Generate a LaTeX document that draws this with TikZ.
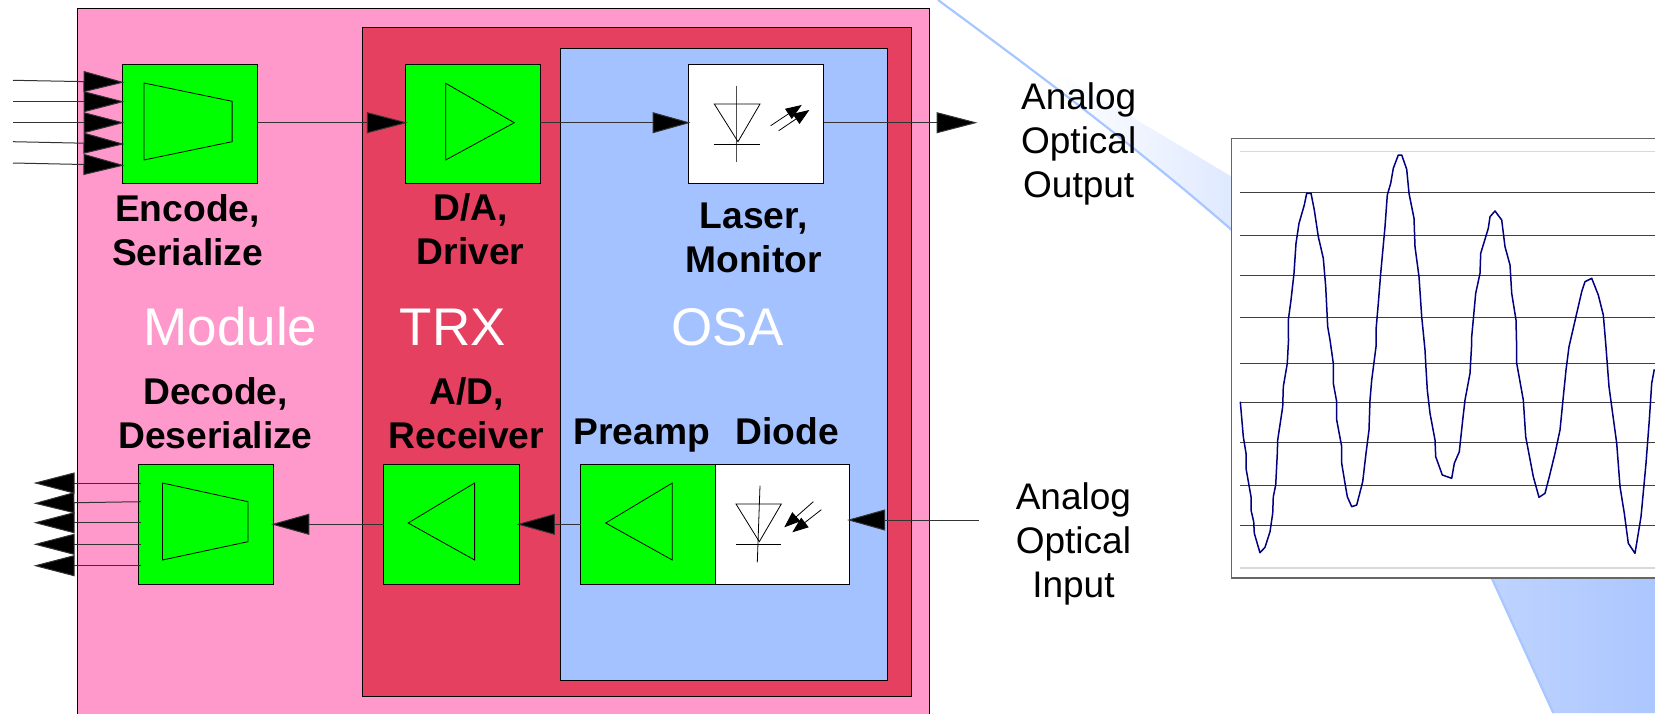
\documentclass[tikz,border=0pt]{standalone}
\usepackage{fontspec}
\setmainfont{Liberation Sans}
\usepackage{xcolor}
\definecolor{modPink}{HTML}{FF99CC}
\definecolor{trxRed}{HTML}{E64060}
\definecolor{osaBlue}{HTML}{A4C2FF}
\definecolor{swooshEdge}{HTML}{A8C6FF}
\definecolor{swooshA}{HTML}{DFE9FF}
\definecolor{swooshB}{HTML}{BDD2FF}
\definecolor{swooshC}{HTML}{ACC7FF}
\definecolor{traceBlue}{HTML}{000080}
\usetikzlibrary{arrows.meta}
\pgfdeclarehorizontalshading{swooshfill}{100bp}{color(0bp)=(white); color(33bp)=(white); color(45.3bp)=(swooshA); color(63.9bp)=(swooshB); color(74.6bp)=(swooshC); color(100bp)=(swooshC)}
\tikzset{
	region/.style={draw=black, line width=0.8pt},
	greenbox/.style={draw=black, line width=1pt, fill=green, inner sep=0pt, outer sep=0pt, minimum width=135.5pt, minimum height=119.4pt},
	whitebox/.style={greenbox, fill=white},
	caption/.style={align=center, font=\fontsize{37.2}{44}\selectfont\bfseries, inner sep=0pt},
	plainlabel/.style={align=center, font=\fontsize{37}{44}\selectfont, inner sep=0pt},
	blocklabel/.style={text=white, font=\fontsize{53}{60}\selectfont, inner sep=0pt},
	sig/.style={line width=1pt, draw=black!80, shorten >=-2.5pt, -{Triangle[length=41pt, width=21pt, fill=black]}},
	sigshort/.style={line width=1pt, draw=black!80, shorten >=-2.5pt, -{Triangle[length=38pt, width=21pt, fill=black]}},
	symb/.style={line width=0.8pt, draw=black},
	photon/.style={line width=0.8pt, -{Triangle[length=16pt, width=12pt, fill=black]}},
	gridline/.style={line width=1pt, draw=black!75},
	faintline/.style={line width=1.5pt, draw=black!15}
}
\begin{document}
\begin{tikzpicture}[x=1pt, y=-1pt]
	\useasboundingbox (0,0) rectangle (1655,713);
	% swoosh behind the plot
	\shade[shading=swooshfill] (938,0) .. controls (1040,75) and (1140,150) .. (1231.7,230) .. controls (1340,330) and (1440,460) .. (1491.7,578) -- (1553.3,713) -- (1660,713) -- (1660,270) -- (1231.7,176.7) -- (1040,62) -- cycle;
	\draw[swooshEdge, line width=2.2pt] (938,0) .. controls (1040,75) and (1140,150) .. (1231.7,230);
	\draw[swooshEdge, line width=2.2pt] (1491.7,578) -- (1553.3,713);

	\filldraw[region, fill=modPink] (77.5,8.5) rectangle (929.7,730);
	\filldraw[region, fill=trxRed] (362.5,27.5) rectangle (911.7,696);
	\filldraw[region, fill=osaBlue] (560,48) rectangle (887.3,680);

	\node[greenbox] (enc) at (190.2,123.9) {};
	\node[greenbox] (dac) at (473,123.9) {};
	\node[whitebox, minimum width=135.6pt] (las) at (755.8,123.9) {};
	\node[greenbox] (dec) at (206,524.3) {};
	\node[greenbox] (adc) at (451.7,524.3) {};
	\node[greenbox] (pre) at (648.7,524.3) {};
	\node[whitebox, minimum width=133.7pt] (dio) at (782.8,524.3) {};

	% block symbols
	\draw[symb] (143.9,83) -- (232.1,101.3) -- (232.1,141.7) -- (143.9,160) -- cycle;
	\draw[symb] (445.7,83.3) -- (514.3,122.7) -- (445.7,160) -- cycle;
	\draw[symb] (162.5,483) -- (247.9,501.7) -- (247.9,541.7) -- (162.5,560) -- cycle;
	\draw[symb] (408.2,523) -- (474.6,483) -- (474.6,560) -- cycle;
	\draw[symb] (605.7,523) -- (672.3,483) -- (672.3,560) -- cycle;

	% laser
	\draw[symb, black!70] (736,85.7) -- (736,162.3);
	\draw[symb] (714.3,104) -- (760,104) -- (738,141.7) -- cycle;
	\draw[symb] (714.3,144) -- (760,144);
	\draw[photon] (770.7,125.7) -- (801.7,105);
	\draw[photon] (778.7,130.7) -- (809.3,110);

	% diode
	\draw[symb] (760,485.7) -- (757.3,562.3);
	\draw[symb] (736,504) -- (781.3,504) -- (759.3,541.7) -- cycle;
	\draw[symb] (736,544) -- (781.3,544);
	\draw[photon] (813.3,501.7) -- (784.3,527.3);
	\draw[photon] (821.3,509.7) -- (792.3,532.3);

	% signal path
	\foreach \ya/\yb [count=\i] in {80.3/82.3, 101.7/101.7, 122.7/122.7, 141.7/144, 163/165.3} {
		\coordinate (inA\i) at (13,\ya);
		\coordinate (inB\i) at (122,\yb);
		\draw[sig] (inA\i) -- (inB\i);
	}
	\foreach \ya/\yb [count=\i] in {483/483, 501.7/503.3, 522.7/522.7, 544.3/544.3, 565.7/565.7} {
		\coordinate (outA\i) at (141,\ya);
		\coordinate (outB\i) at (36,\yb);
		\draw[sig] (outA\i) -- (outB\i);
	}
	\coordinate (laserOut) at (975,122.7);
	\coordinate (lightIn) at (978.7,520);
	\draw[sig] (enc.east |- laserOut) -- (dac.west |- laserOut);
	\draw[sigshort] (dac.east |- laserOut) -- (las.west |- laserOut);
	\draw[sig] (las.east |- laserOut) -- (laserOut);
	\draw[sigshort] (lightIn) -- (dio.east |- lightIn);
	\draw[sigshort] (pre.west) -- (adc.east);
	\draw[sigshort] (adc.west) -- (dec.east);

	\node[caption] (encText) at (187.5,230) {Encode,\\Serialize};
	\node[caption] (dacText) at (470.5,229.5) {D/A,\\Driver};
	\node[caption] (lasText) at (753.6,237.5) {Laser,\\Monitor};
	\node[caption] (decText) at (215.5,413.5) {Decode,\\Deserialize};
	\node[caption] (adcText) at (466.5,413.5) {A/D,\\Receiver};
	\node[caption, anchor=base] (preText) at (641.7,444) {Preamp};
	\node[caption, anchor=base] (dioText) at (787.4,444) {Diode};
	\node[blocklabel] (modText) at (230.5,327) {Module};
	\node[blocklabel] (trxText) at (452.8,327) {TRX};
	\node[blocklabel] (osaText) at (727.5,327) {OSA};
	\node[plainlabel] (outText) at (1078.7,144.2) {Analog\\Optical\\Output};
	\node[plainlabel] (inText) at (1073.4,544) {Analog\\Optical\\Input};

	% plot
	\filldraw[draw=black!60, line width=1.2pt, fill=white] (1231.7,138.7) rectangle (1670,578);
	\foreach \y in {151.7, 568} \draw[faintline] (1240.3,\y) -- (1660,\y);
	\foreach \y in {192, 235, 275, 317.7, 363, 402.7, 442.7, 485.7, 525.3} \draw[gridline] (1240.3,\y) -- (1660,\y);
	\draw[traceBlue, line width=1.5pt, line join=round] (1240.3,401.7) -- (1243.3,436.7) -- (1246,453.3) -- (1246,468.3) -- (1251,496.7) -- (1251,510) -- (1253.7,521.7) -- (1254.3,533.3) -- (1257.7,545) -- (1260,552.7) -- (1265,547.3) -- (1270,531.7) -- (1272.7,513.3) -- (1273.3,496.7) -- (1275.7,485) -- (1277.3,453.3) -- (1277.7,440) -- (1282.7,406.7) -- (1283.3,386.7) -- (1287.3,363.3) -- (1288.5,340) -- (1288.3,320) -- (1291,300) -- (1294,273.3) -- (1296,243.3) -- (1299,223.3) -- (1304.3,205) -- (1306.7,193.3) -- (1311,193.3) -- (1314.3,210) -- (1318.3,236.7) -- (1323.3,258.3) -- (1325.7,286.7) -- (1327.7,326.7) -- (1330,340) -- (1333.3,363.3) -- (1333.3,383.3) -- (1336.7,401.7) -- (1336.7,420) -- (1341.7,446.7) -- (1341.7,463.3) -- (1345,483.3) -- (1347.3,496.7) -- (1351.7,506.7) -- (1356.7,505) -- (1362.7,481.7) -- (1366,453.3) -- (1369,430) -- (1370,400) -- (1371.7,380) -- (1376,346.7) -- (1376,330) -- (1378.3,303.3) -- (1380.7,273.3) -- (1385,226.7) -- (1387.3,195) -- (1390.7,183.3) -- (1393.3,168.3) -- (1398.3,155) -- (1401.7,155) -- (1406.7,169.3) -- (1409,193.3) -- (1414,218.3) -- (1415,246.7) -- (1419,276.7) -- (1421.7,316.7) -- (1425,350) -- (1425.7,363.3) -- (1427.3,390) -- (1430,413.3) -- (1435,440) -- (1435.7,456.7) -- (1442.3,475) -- (1451.7,478.3) -- (1454.3,463.3) -- (1459.3,451.7) -- (1462.7,420) -- (1465,400) -- (1470,373.3) -- (1471.7,343.3) -- (1471.7,336.7) -- (1475.7,293.3) -- (1480,273.3) -- (1480.7,253.3) -- (1488.3,228.3) -- (1490,216.7) -- (1495,211) -- (1501.7,220) -- (1505,246.7) -- (1510,265) -- (1511.7,293.3) -- (1516,320) -- (1516.7,350) -- (1516.7,363.3) -- (1523.3,400) -- (1525.7,436.7) -- (1533.3,476.7) -- (1539,497.3) -- (1545,493.3) -- (1549.3,476.7) -- (1555,453.3) -- (1560,430) -- (1563.3,396.7) -- (1566,370) -- (1569,346.7) -- (1576.7,313.3) -- (1581.7,291.7) -- (1585,281.7) -- (1591.7,278.3) -- (1598.3,295) -- (1603.3,315) -- (1605.7,343.3) -- (1609,386.7) -- (1616.7,443.3) -- (1620,486.7) -- (1624.3,513.3) -- (1628.3,543.3) -- (1635,553.3) -- (1641,516.7) -- (1646,463.3) -- (1649.3,420) -- (1651.7,383.3) -- (1654.3,369.3);
\end{tikzpicture}
\end{document}
